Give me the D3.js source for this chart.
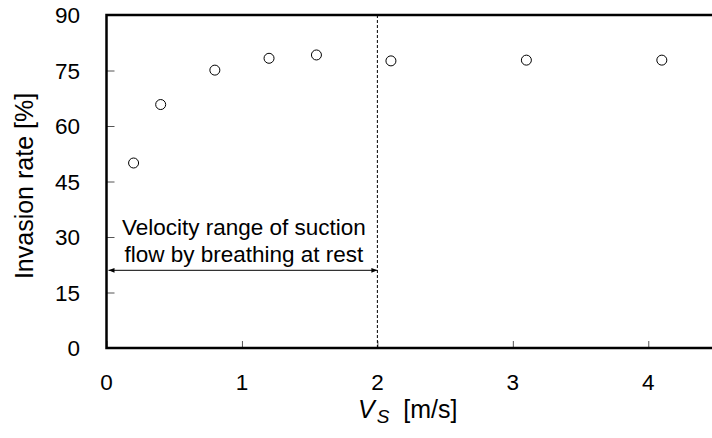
<!DOCTYPE html>
<html>
<head>
<meta charset="utf-8">
<script src="https://cdn.jsdelivr.net/npm/d3@7"></script>
<style>
  body { margin: 0; background: #fff; }
  svg text { font-family: "Liberation Sans", Arial, sans-serif; fill: #000; }
</style>
</head>
<body>
<div id="chart"></div>
<script>
// measured points (velocity m/s, invasion rate %)
var velocity = [0.2, 0.4, 0.8, 1.2, 1.55, 2.1, 3.1, 4.1];
var invasion = [50, 65.8, 75.1, 78.3, 79.2, 77.6, 77.8, 77.8];
var xTicks = [0, 1, 2, 3, 4];
var yTicks = [0, 15, 30, 45, 60, 75, 90];
var restLimit = 2;      // breathing at rest upper bound
var arrowLevel = 21;
var noteLines = ["Velocity range of suction", "flow by breathing at rest"];

var width = 712, height = 438;
var margin = {top: 15, right: -4, bottom: 90, left: 106.5};
var fs = 22.5, titleFs = 25;

var svg = d3.select("#chart").append("svg")
  .attr("width", width)
  .attr("height", height);

var x = d3.scaleLinear().domain([0, 4.5]).range([margin.left, width - margin.right]);
var y = d3.scaleLinear().domain([0, 90]).range([height - margin.bottom, margin.top]);

var defs = svg.append("defs");
["start", "end"].forEach(function(k) {
  defs.append("marker")
    .attr("id", "arr-" + k)
    .attr("viewBox", "0 0 10 10")
    .attr("refX", k == "end" ? 10 : 0).attr("refY", 5)
    .attr("markerWidth", 8).attr("markerHeight", 6)
    .attr("markerUnits", "userSpaceOnUse")
    .attr("orient", "auto")
    .append("path")
    .attr("d", k == "end" ? "M0,1L10,5L0,9Z" : "M10,1L0,5L10,9Z")
    .attr("fill", "#000");
});

// ticks (inward)
svg.append("g")
  .attr("transform", "translate(" + x(0) + ",0)")
  .call(d3.axisRight(y).tickValues(yTicks).tickSize(8).tickFormat(""))
  .call(function(g) { g.select(".domain").remove(); })
  .selectAll("line").attr("stroke", "#555").attr("stroke-width", 1);

svg.append("g")
  .attr("transform", "translate(0," + y(0) + ")")
  .call(d3.axisTop(x).tickValues(xTicks).tickSize(7).tickFormat(""))
  .call(function(g) { g.select(".domain").remove(); })
  .selectAll("line").attr("stroke", "#555").attr("stroke-width", 1);

// tick labels
svg.append("g").selectAll("text")
  .data(yTicks).enter().append("text")
  .attr("x", 80)
  .attr("y", function(d) { return y(d); })
  .attr("dy", "0.36em")
  .attr("text-anchor", "end")
  .attr("font-size", fs)
  .text(function(d) { return d; });

svg.append("g").selectAll("text")
  .data(xTicks).enter().append("text")
  .attr("x", function(d) { return x(d); })
  .attr("y", 390)
  .attr("text-anchor", "middle")
  .attr("font-size", fs)
  .text(function(d) { return d; });

// frame
svg.append("path")
  .attr("d", "M" + (width + 5) + "," + y(90) + "H" + x(0) + "V" + y(0) + "H" + (width + 5))
  .attr("fill", "none")
  .attr("stroke", "#000")
  .attr("stroke-width", 2.5);

// resting breathing range
svg.append("line")
  .attr("x1", x(restLimit)).attr("x2", x(restLimit))
  .attr("y1", y(90)).attr("y2", y(0))
  .attr("stroke", "#000").attr("stroke-width", 1)
  .attr("stroke-dasharray", "3,2");

svg.append("line")
  .attr("x1", x(0) + 2).attr("x2", x(restLimit))
  .attr("y1", y(arrowLevel)).attr("y2", y(arrowLevel))
  .attr("stroke", "#000").attr("stroke-width", 1)
  .attr("marker-start", "url(#arr-start)")
  .attr("marker-end", "url(#arr-end)");

svg.append("g").selectAll("text")
  .data(noteLines).enter().append("text")
  .attr("x", (x(0) + x(restLimit)) / 2 + 2)
  .attr("y", function(d, i) { return 235 + i * 27; })
  .attr("text-anchor", "middle")
  .attr("font-size", fs)
  .text(function(d) { return d; });

// points
svg.append("g").selectAll("circle")
  .data(velocity).enter().append("circle")
  .attr("cx", function(d) { return x(d); })
  .attr("cy", function(d, i) { return y(invasion[i]); })
  .attr("r", 5)
  .attr("fill", "#fff")
  .attr("stroke", "#000")
  .attr("stroke-width", 1);

// axis titles
svg.append("text")
  .attr("transform", "translate(33,186) rotate(-90)")
  .attr("text-anchor", "middle")
  .attr("font-size", titleFs)
  .text("Invasion rate [%]");

var xt = svg.append("text")
  .attr("x", 358)
  .attr("y", 418)
  .attr("text-anchor", "start")
  .attr("font-size", titleFs);
xt.append("tspan").attr("font-style", "italic").text("V");
xt.append("tspan").attr("font-style", "italic").attr("font-size", 19).attr("dy", 5).attr("dx", 2).text("S");
xt.append("tspan").attr("dy", -5).attr("dx", 0).text("\u00a0 [m/s]");
</script>
</body>
</html>
